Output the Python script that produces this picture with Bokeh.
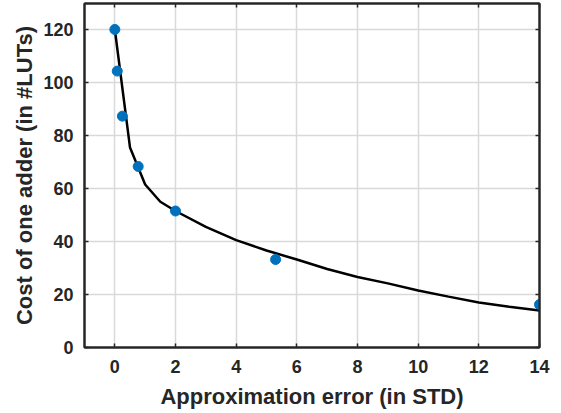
from bokeh.plotting import figure
from bokeh.models import Range1d, LinearAxis, FixedTicker
from bokeh.embed import file_html
from bokeh.resources import INLINE

# measured points
err_pts = [0.0, 0.08, 0.25, 0.77, 2.0, 5.3, 14.0]
cost_pts = [120.0, 104.3, 87.3, 68.3, 51.5, 33.2, 16.2]

# fitted curve
err_fit = [0, 0.5, 1, 1.5, 2, 3, 4, 5, 6, 7, 8, 9, 10, 11, 12, 13, 14]
cost_fit = [120, 75.5, 61.5, 55, 51.5, 45.5, 40.5, 36.6, 33.2, 29.6, 26.6, 24.2, 21.5, 19.2, 17.0, 15.4, 14.0]

x_ticks = [0, 2, 4, 6, 8, 10, 12, 14]
y_ticks = [0, 20, 40, 60, 80, 100, 120]

FONT = "Liberation Sans"
TXT = "#262626"

p = figure(width=561, height=413, output_backend="svg", toolbar_location=None,
           x_range=Range1d(-1, 14), y_range=Range1d(0, 129.8),
           min_border_left=84, min_border_right=22, min_border_top=3, min_border_bottom=66,
           x_axis_label="Approximation error (in STD)",
           y_axis_label="Cost of one adder (in #LUTs)")
p.background_fill_color = "white"
p.border_fill_color = "white"
p.outline_line_color = TXT
p.outline_line_width = 2

for ax, ticks in ((p.xaxis[0], x_ticks), (p.yaxis[0], y_ticks)):
    ax.ticker = FixedTicker(ticks=ticks)
    ax.axis_line_color = TXT
    ax.axis_line_width = 2
    ax.major_tick_line_color = TXT
    ax.major_tick_line_width = 1.5
    ax.major_tick_in = 4
    ax.major_tick_out = 0
    ax.minor_tick_line_color = None
    ax.major_label_text_font = FONT
    ax.major_label_text_font_style = "bold"
    ax.major_label_text_font_size = "18px"
    ax.major_label_text_color = TXT
    ax.axis_label_text_font = FONT
    ax.axis_label_text_font_style = "bold"
    ax.axis_label_text_font_size = "22px"
    ax.axis_label_text_color = TXT

p.xaxis[0].major_label_standoff = 12
p.xaxis[0].axis_label_standoff = 8
p.yaxis[0].major_label_standoff = 11
p.yaxis[0].axis_label_standoff = 3

top = LinearAxis(ticker=FixedTicker(ticks=x_ticks), major_label_text_font_size="0px",
                 major_label_text_color=None,
                 major_label_standoff=0, major_tick_in=4, major_tick_out=0,
                 major_tick_line_color=TXT, major_tick_line_width=1.5,
                 minor_tick_line_color=None, axis_line_color=TXT, axis_line_width=2)
right = LinearAxis(ticker=FixedTicker(ticks=y_ticks), major_label_text_font_size="0px",
                   major_label_text_color=None,
                   major_label_standoff=0, major_tick_in=4, major_tick_out=0,
                   major_tick_line_color=TXT, major_tick_line_width=1.5,
                   minor_tick_line_color=None, axis_line_color=TXT, axis_line_width=2)
p.add_layout(top, "above")
p.add_layout(right, "right")

p.xgrid.ticker = FixedTicker(ticks=x_ticks)
p.ygrid.ticker = FixedTicker(ticks=y_ticks)
for g in (p.xgrid[0], p.ygrid[0]):
    g.grid_line_color = "#d9d9d9"
    g.grid_line_width = 1.5

p.line(err_fit, cost_fit, line_color="black", line_width=2.5)
p.scatter(err_pts, cost_pts, size=10, fill_color="#0072BD", line_color="#0072BD")

open("out.html", "w").write(file_html(p, INLINE))
